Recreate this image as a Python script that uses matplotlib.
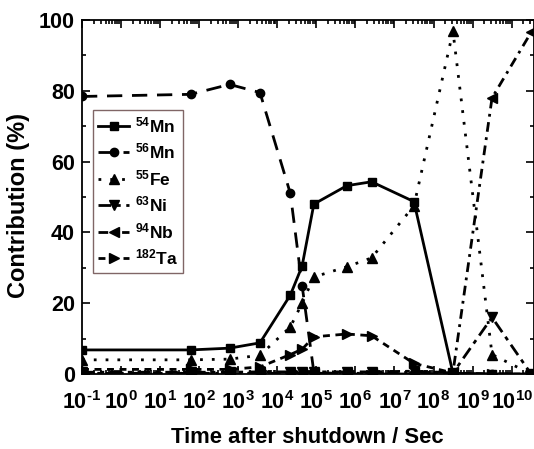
import matplotlib
matplotlib.use("Agg")
import matplotlib.pyplot as plt
from matplotlib.ticker import LogLocator, MultipleLocator, NullFormatter, FixedLocator
import numpy as np

plt.rcParams['font.family'] = ['Liberation Sans', 'DejaVu Sans']
plt.rcParams['font.weight'] = 'bold'
plt.rcParams['mathtext.fontset'] = 'custom'
plt.rcParams['mathtext.rm'] = 'Liberation Sans:bold'
plt.rcParams['mathtext.bf'] = 'Liberation Sans:bold'
plt.rcParams['mathtext.default'] = 'rm'
plt.rcParams['axes.unicode_minus'] = False
plt.rcParams['lines.scale_dashes'] = False

# time points (s): 0.1 s, 1 min, 10 min, 1 h, 6 h, 12 h, 1 d, 7 d, 30 d, 1 y, 10 y, 100 y, 1000 y
times = [0.1, 60, 600, 3600, 21600, 43200, 86400, 604800, 2.592e6, 3.15e7, 3.15e8, 3.15e9, 3.15e10]

mn54 = [6.8, 6.8, 7.3, 8.8, 22.3, 30.5, 48.0, 53.2, 54.3, 48.7, 0.2, 0.0, 0.0]
mn56 = [78.4, 79.0, 81.8, 79.5, 51.0, 25.0, 0.5, 0.0, 0.0, 0.0, 0.0, 0.0, 0.0]
fe55 = [4.0, 4.0, 4.2, 5.3, 13.3, 20.0, 27.4, 30.3, 32.8, 47.5, 96.8, 5.5, 0.0]
ni63 = [0.5, 0.5, 0.5, 0.6, 0.6, 0.6, 0.6, 0.6, 0.6, 0.8, 0.3, 16.0, 0.0]
nb94 = [0.2, 0.2, 0.2, 0.2, 0.2, 0.2, 0.2, 0.2, 0.2, 0.5, 0.5, 78.0, 96.5]
ta182 = [1.3, 1.3, 1.3, 2.0, 5.5, 7.0, 10.5, 11.3, 10.8, 3.0, 0.3, 0.0, 0.0]

labels = [r'$^{54}$Mn', r'$^{56}$Mn', r'$^{55}$Fe', r'$^{63}$Ni', r'$^{94}$Nb', r'$^{182}$Ta']

xticks = [10.0**k for k in range(-1, 11)]
xticklabels = [r'10$^{\text{%d}}$' % k for k in range(-1, 11)]
yticks = [0, 20, 40, 60, 80, 100]

fig = plt.figure(figsize=(5.34, 4.49), dpi=100)
ax = fig.add_axes([82/534, 1-374/449, (533.5-82)/534, (374-20)/449])

lw = 2.0
ms = 7
ax.plot(times, mn54, color='black', lw=lw, ls='-', marker='s', ms=ms-1, label=labels[0])
ax.plot(times, mn56, color='black', lw=lw, ls=(0, (11, 7)), marker='o', ms=ms-1, label=labels[1])
ax.plot(times, fe55, color='black', lw=lw, ls=(0, (2, 6.5)), marker='^', ms=ms, label=labels[2])
ax.plot(times, ni63, color='black', lw=lw, ls=(0, (9, 4, 3, 4)), marker='v', ms=ms, label=labels[3])
ax.plot(times, nb94, color='black', lw=lw, ls=(0, (7, 4, 2, 4)), marker='<', ms=ms, label=labels[4])
ax.plot(times, ta182, color='black', lw=lw, ls=(0, (5, 4)), marker='>', ms=ms, label=labels[5])

ax.set_xscale('log')
ax.set_xlim(0.1, 10**10.56)
ax.set_ylim(0, 100)
ax.xaxis.set_major_locator(FixedLocator(xticks))
ax.set_xticklabels(xticklabels)
ax.xaxis.set_minor_locator(LogLocator(base=10, subs=np.arange(2, 10), numticks=50))
ax.xaxis.set_minor_formatter(NullFormatter())
ax.set_yticks(yticks)
ax.yaxis.set_minor_locator(MultipleLocator(10))
ax.tick_params(which='both', direction='in', top=True, right=True, width=1.2)
ax.tick_params(axis='y', which='major', length=6, labelsize=15.5, pad=5)
ax.tick_params(axis='x', which='major', length=6, labelsize=15.5, pad=12)
ax.tick_params(which='minor', length=3)
for s in ax.spines.values():
    s.set_linewidth(1.3)

ax.set_xlabel('Time after shutdown / Sec', fontsize=15.8, fontweight='bold', labelpad=10)
ax.set_ylabel('Contribution (%)', fontsize=17, fontweight='bold')
ax.yaxis.set_label_coords(-0.115, 0.475)

leg = ax.legend(loc='upper left', bbox_to_anchor=(0.024, 0.746), fontsize=12.5,
                frameon=True, fancybox=False, edgecolor='#604040', handlelength=1.8,
                handletextpad=0.3, labelspacing=0.38, borderpad=0.3, borderaxespad=0)
leg.get_frame().set_linewidth(1.0)

fig.savefig('out.png', dpi=100)
